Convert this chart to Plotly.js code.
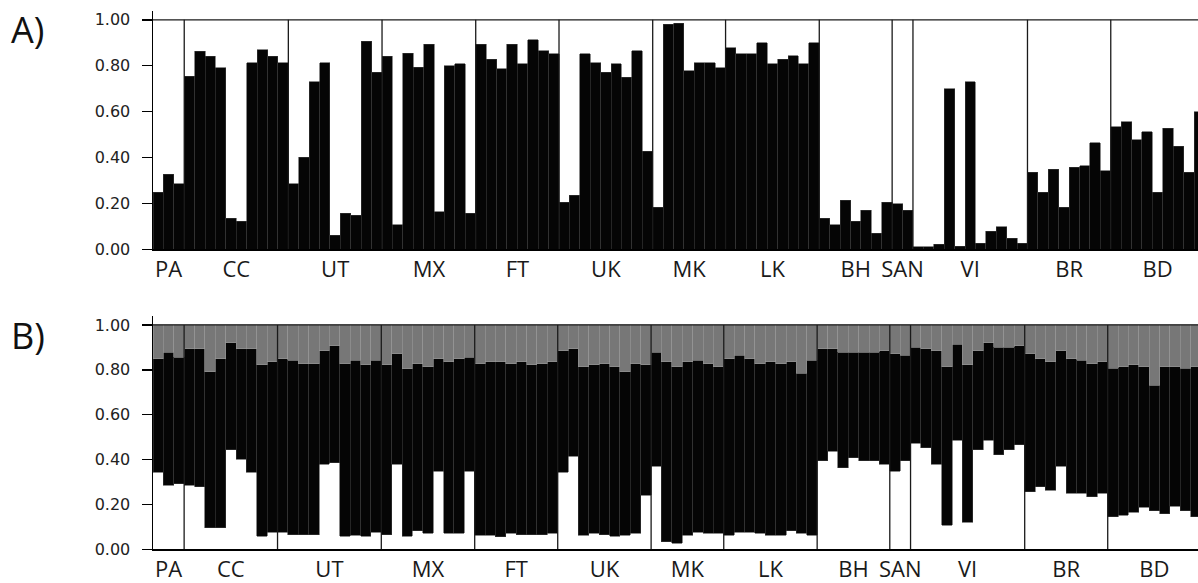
<!DOCTYPE html>
<html>
<head>
<meta charset="utf-8">
<script src="https://cdn.plot.ly/plotly-3.0.1.min.js"></script>
<style>html,body{margin:0;padding:0;background:#fff;}#chart{width:1198px;height:583px;}</style>
</head>
<body>
<div id="chart"></div>
<script>
// ---- data ----
const groups = ['PA','CC','UT','MX','FT','UK','MK','LK','BH','SAN','VI','BR','BD'];
const sizesA = [3,10,9,9,8,9,7,9,7,2,11,8,9];
const sizesB = [3,9,10,9,8,9,7,9,7,2,11,8,9];

// Panel A: proportion of cluster 1 (black)
const valuesA = [
  0.248,0.328,0.286,
  0.755,0.864,0.841,0.791,0.135,0.122,0.813,0.870,0.842,0.813,
  0.286,0.401,0.729,0.813,0.062,0.157,0.148,0.907,0.771,
  0.842,0.106,0.855,0.793,0.894,0.164,0.800,0.809,0.157,
  0.894,0.829,0.786,0.894,0.809,0.914,0.865,0.851,
  0.206,0.235,0.851,0.813,0.771,0.809,0.749,0.865,0.428,
  0.184,0.980,0.986,0.777,0.813,0.813,0.791,
  0.878,0.851,0.851,0.900,0.809,0.829,0.843,0.809,0.900,
  0.135,0.106,0.213,0.122,0.170,0.071,0.206,
  0.199,0.170,
  0.012,0.012,0.022,0.700,0.013,0.729,0.026,0.078,0.099,0.049,0.026,
  0.335,0.249,0.348,0.184,0.357,0.365,0.464,0.342,
  0.535,0.555,0.477,0.513,0.249,0.528,0.449,0.335,0.599
];

// Panel B: cluster proportions (white bottom, black middle, grey = remainder)
const whiteB = [
  0.343,0.285,0.293,
  0.285,0.278,0.097,0.097,0.443,0.401,0.343,0.059,0.077,
  0.077,0.065,0.065,0.065,0.379,0.386,0.059,0.062,0.059,0.077,
  0.065,0.379,0.059,0.083,0.071,0.349,0.071,0.071,0.349,
  0.062,0.062,0.056,0.071,0.065,0.065,0.065,0.071,
  0.343,0.415,0.062,0.071,0.065,0.059,0.062,0.071,0.242,
  0.371,0.034,0.028,0.062,0.077,0.071,0.071,
  0.062,0.077,0.077,0.071,0.062,0.062,0.083,0.071,0.062,
  0.394,0.437,0.364,0.409,0.394,0.394,0.379,
  0.349,0.394,
  0.473,0.452,0.379,0.107,0.486,0.120,0.444,0.486,0.422,0.444,0.465,
  0.257,0.278,0.264,0.371,0.250,0.250,0.235,0.250,
  0.144,0.152,0.166,0.187,0.172,0.158,0.192,0.172,0.144
];
const blackB = [
  0.507,0.593,0.564,
  0.610,0.617,0.695,0.753,0.478,0.494,0.552,0.763,0.758,
  0.773,0.777,0.763,0.763,0.507,0.522,0.769,0.780,0.763,0.765,
  0.757,0.492,0.745,0.745,0.743,0.501,0.764,0.779,0.508,
  0.766,0.773,0.779,0.757,0.770,0.757,0.763,0.764,
  0.543,0.478,0.752,0.751,0.763,0.755,0.730,0.757,0.580,
  0.507,0.801,0.786,0.773,0.765,0.757,0.743,
  0.788,0.788,0.773,0.757,0.773,0.766,0.752,0.714,0.780,
  0.499,0.456,0.514,0.469,0.484,0.484,0.507,
  0.522,0.471,
  0.427,0.441,0.507,0.707,0.429,0.702,0.442,0.435,0.478,0.456,0.443,
  0.614,0.572,0.571,0.515,0.600,0.592,0.593,0.585,
  0.663,0.662,0.656,0.627,0.559,0.656,0.622,0.635,0.670
];
const greyB = whiteB.map((w,i)=>Math.max(0, 1 - w - blackB[i]));

// ---- helpers ----
const idx = n => Array.from({length:n},(_,i)=>i);
function centers(sizes){ let c=0; return sizes.map(s=>{const m=c+(s-1)/2; c+=s; return m;}); }
function bounds(sizes){ let c=0, out=[]; sizes.slice(0,-1).forEach(s=>{c+=s; out.push(c-0.5);}); return out; }

const xA = idx(valuesA.length), xB = idx(whiteB.length);

const traces = [
  {type:'bar', x:xA, y:valuesA, xaxis:'x', yaxis:'y', marker:{color:'#050505', line:{color:'#3a3a3a', width:0.6}}, hoverinfo:'y', showlegend:false},
  {type:'bar', x:xB, y:whiteB, xaxis:'x2', yaxis:'y2', marker:{color:'#ffffff', line:{color:'#ffffff', width:0}}, showlegend:false},
  {type:'bar', x:xB, y:blackB, xaxis:'x2', yaxis:'y2', marker:{color:'#050505', line:{color:'#3a3a3a', width:0.6}}, showlegend:false},
  {type:'bar', x:xB, y:greyB, xaxis:'x2', yaxis:'y2', marker:{color:'#777777', line:{color:'#9a9a9a', width:0.6}}, showlegend:false}
];

const shapes = [];
function addFrame(sizes, xr, yr){
  bounds(sizes).forEach(b=>shapes.push({type:'line', xref:xr, yref:yr, x0:b, x1:b, y0:0, y1:1, line:{color:'#1a1a1a', width:1.3}}));
  shapes.push({type:'line', xref:'paper', yref:yr, x0:0, x1:1, y0:1, y1:1, line:{color:'#1a1a1a', width:1.3}});
}
addFrame(sizesA,'x','y');
addFrame(sizesB,'x2','y2');

const yTicks = [0,0.2,0.4,0.6,0.8,1.0];
function yax(domain, anchor){
  return {domain:domain, anchor:anchor, range:[0,1.04], tickvals:yTicks, tickformat:'.2f',
    ticks:'outside', ticklen:10, tickwidth:1.5, tickcolor:'#000', ticklabelstandoff:8,
    showline:true, linecolor:'#000', linewidth:1.5, showgrid:false, zeroline:false,
    tickfont:{family:'DejaVu Sans', size:16, color:'#222'}, fixedrange:true};
}
function xax(range, anchor, sizes){
  return {domain:[0,1], anchor:anchor, range:range, tickmode:'array', tickvals:centers(sizes), ticktext:groups,
    ticks:'', showline:true, linecolor:'#000', linewidth:1.5, showgrid:false, zeroline:false,
    tickfont:{family:'Open Sans', size:22, color:'#1a1a1a'}, fixedrange:true};
}

const layout = {
  width:1198, height:583,
  margin:{l:153, r:0, t:0, b:0},
  paper_bgcolor:'#fff', plot_bgcolor:'#fff',
  barmode:'stack', bargap:0,
  xaxis: xax([-0.5, 99.88], 'y', sizesA),
  yaxis: yax([0.5724, 0.9818], 'x'),
  xaxis2: xax([-0.5, 100.2], 'y2', sizesB),
  yaxis2: yax([0.0578, 0.4580], 'x2'),
  shapes: shapes,
  annotations:[
    {text:'A)', xref:'paper', yref:'paper', x:-0.138, y:0.995, xanchor:'left', yanchor:'top', showarrow:false, font:{family:'Open Sans', size:36, color:'#111'}},
    {text:'B)', xref:'paper', yref:'paper', x:-0.138, y:0.47, xanchor:'left', yanchor:'top', showarrow:false, font:{family:'Open Sans', size:36, color:'#111'}}
  ],
  showlegend:false
};

Plotly.newPlot('chart', traces, layout, {displayModeBar:false, staticPlot:true});
</script>
</body>
</html>
